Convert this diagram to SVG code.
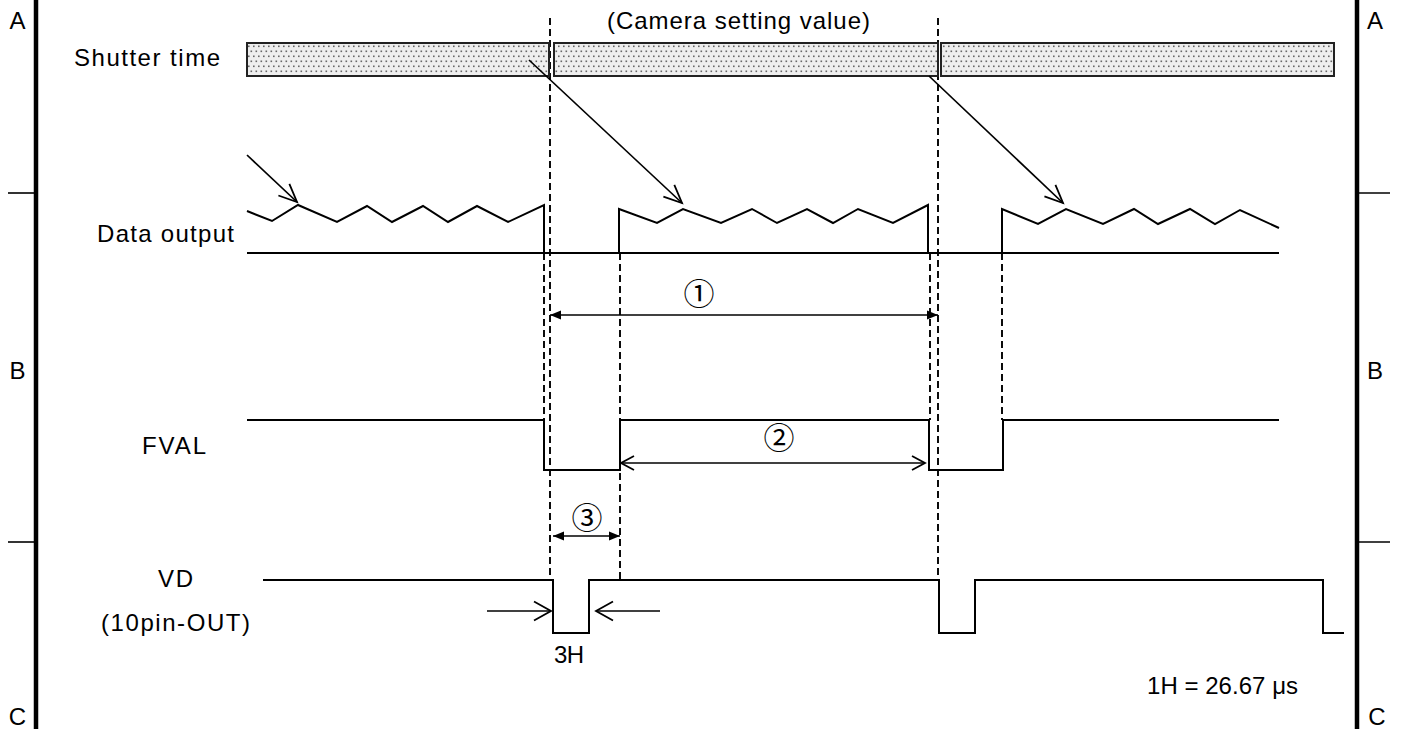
<svg xmlns="http://www.w3.org/2000/svg" width="1401" height="729" viewBox="0 0 1401 729">
<style>
.t{font-family:"Liberation Sans",Arial,sans-serif;font-size:24px;fill:#000}
.c{font-family:"Noto Sans CJK JP","Liberation Sans",sans-serif;font-size:31px;fill:#000;text-anchor:middle}
.sig{fill:none;stroke:#000;stroke-width:2;stroke-linejoin:miter}
.dash{fill:none;stroke:#000;stroke-width:1.9;stroke-dasharray:7 4}
.frame{stroke:#000;stroke-width:4.5}
.tick{stroke:#000;stroke-width:1.6}
.bar{fill:url(#dots);stroke:#222;stroke-width:2}
.arr{fill:none;stroke:#000;stroke-width:1.7}
</style>
<defs>
<pattern id="dots" width="5" height="10" patternUnits="userSpaceOnUse">
<rect width="5" height="10" fill="#eeeeee"/>
<rect x="0.5" y="0.5" width="1.6" height="1.6" fill="#666"/>
<rect x="3" y="5.5" width="1.6" height="1.6" fill="#666"/>
</pattern>
<marker id="vOpen" markerUnits="userSpaceOnUse" markerWidth="24" markerHeight="24" viewBox="-21 -12 24 24" refX="0" refY="0" orient="auto">
<path d="M-18,-8 L0,0 L-18,8" fill="none" stroke="#000" stroke-width="1.8"/>
</marker>
<marker id="dimOpen" markerUnits="userSpaceOnUse" markerWidth="20" markerHeight="20" viewBox="-16 -10 20 20" refX="0" refY="0" orient="auto-start-reverse">
<path d="M-13,-7 L0,0 L-13,7" fill="none" stroke="#000" stroke-width="1.8"/>
</marker>
<marker id="dimFill" markerUnits="userSpaceOnUse" markerWidth="16" markerHeight="12" viewBox="-13 -6 16 12" refX="0" refY="0" orient="auto-start-reverse">
<path d="M-11,-4.5 L0,0 L-11,4.5 Z" fill="#000"/>
</marker>
<marker id="bigOpen" markerUnits="userSpaceOnUse" markerWidth="24" markerHeight="26" viewBox="-21 -13 24 26" refX="0" refY="0" orient="auto">
<path d="M-17,-9.5 L0,0 L-17,9.5" fill="none" stroke="#000" stroke-width="1.8"/>
</marker>
</defs>
<rect width="1401" height="729" fill="#fff"/>

<g id="frame">
<line class="frame" x1="36" y1="0" x2="36" y2="729"/>
<line class="frame" x1="1357" y1="0" x2="1357" y2="729"/>
<line class="tick" x1="8" y1="193" x2="36" y2="193"/>
<line class="tick" x1="8" y1="542" x2="36" y2="542"/>
<line class="tick" x1="1357" y1="193" x2="1390" y2="193"/>
<line class="tick" x1="1357" y1="542" x2="1390" y2="542"/>
<text class="t" x="17.5" y="29" text-anchor="middle">A</text>
<text class="t" x="17.5" y="379" text-anchor="middle">B</text>
<text class="t" x="17.5" y="725" text-anchor="middle">C</text>
<text class="t" x="1375" y="29" text-anchor="middle">A</text>
<text class="t" x="1375" y="379" text-anchor="middle">B</text>
<text class="t" x="1377" y="725" text-anchor="middle">C</text>
</g>

<g id="guides">
<line class="dash" x1="550" y1="18" x2="550" y2="580"/>
<line class="dash" x1="938" y1="18" x2="938" y2="580"/>
<line class="dash" x1="544" y1="253" x2="544" y2="420"/>
<line class="dash" x1="930" y1="253" x2="930" y2="420"/>
<line class="dash" x1="620" y1="253" x2="620" y2="580"/>
<line class="dash" x1="1002" y1="253" x2="1002" y2="420"/>
</g>

<g id="shutter">
<text class="t" x="74" y="66" textLength="146" lengthAdjust="spacing">Shutter time</text>
<text class="t" x="607" y="29" textLength="263" lengthAdjust="spacing">(Camera setting value)</text>
<rect class="bar" x="247" y="43" width="302" height="33"/>
<rect class="bar" x="554" y="43" width="384" height="33"/>
<rect class="bar" x="941" y="43" width="393" height="33"/>
</g>

<g id="data-output">
<text class="t" x="97" y="242" textLength="137" lengthAdjust="spacing">Data output</text>
<line class="sig" x1="247" y1="253" x2="1279" y2="253"/>
<polyline class="sig" points="247,211 272,221 298,205 337,222 367,206 392,222 423,206 448,222 477,206 508,222 544,205 544,253"/>
<polyline class="sig" points="619,253 619,209 657,223 683,209 721,223 752,209 777,223 807,209 833,223 858,209 893,223 928,205 928,253"/>
<polyline class="sig" points="1002,253 1002,209 1038,224 1066,209 1103,224 1134,209 1158,224 1190,209 1215,224 1240,210 1279,228"/>
</g>

<g id="fval">
<text class="t" x="142" y="454" textLength="64" lengthAdjust="spacing">FVAL</text>
<polyline class="sig" points="247,420 544,420 544,470 620,470 620,420 929,420 929,470 1003,470 1003,420 1279,420"/>
</g>

<g id="vd">
<text class="t" x="158" y="587" textLength="35" lengthAdjust="spacing">VD</text>
<text class="t" x="101" y="631" textLength="149" lengthAdjust="spacing">(10pin-OUT)</text>
<polyline class="sig" points="263,580 553,580 553,633 589,633 589,580 939,580 939,633 975,633 975,580 1323,580 1323,633 1344,633"/>
<text class="t" x="554" y="663" textLength="30" lengthAdjust="spacing">3H</text>
<text class="t" x="1147" y="694" textLength="151" lengthAdjust="spacing">1H = 26.67 μs</text>
</g>

<g id="connectors">
<line class="arr" x1="247" y1="155" x2="297" y2="202" marker-end="url(#vOpen)"/>
<line class="arr" x1="529" y1="60" x2="682" y2="203" marker-end="url(#vOpen)"/>
<line class="arr" x1="929" y1="76" x2="1063" y2="203" marker-end="url(#vOpen)"/>
<line class="arr" x1="487" y1="611" x2="551" y2="611" marker-end="url(#bigOpen)"/>
<line class="arr" x1="660" y1="611" x2="596" y2="611" marker-end="url(#bigOpen)"/>
</g>

<g id="dimensions">
<line class="arr" x1="550" y1="315" x2="938" y2="315" stroke-width="2" marker-start="url(#dimFill)" marker-end="url(#dimFill)"/>
<text class="c" x="699" y="305">①</text>
<line class="arr" x1="621" y1="463" x2="925" y2="463" stroke-width="2" marker-start="url(#dimOpen)" marker-end="url(#dimOpen)"/>
<text class="c" x="779" y="449">②</text>
<line class="arr" x1="553" y1="536" x2="620" y2="536" stroke-width="2" marker-start="url(#dimFill)" marker-end="url(#dimFill)"/>
<text class="c" x="587" y="529">③</text>
</g>
</svg>
